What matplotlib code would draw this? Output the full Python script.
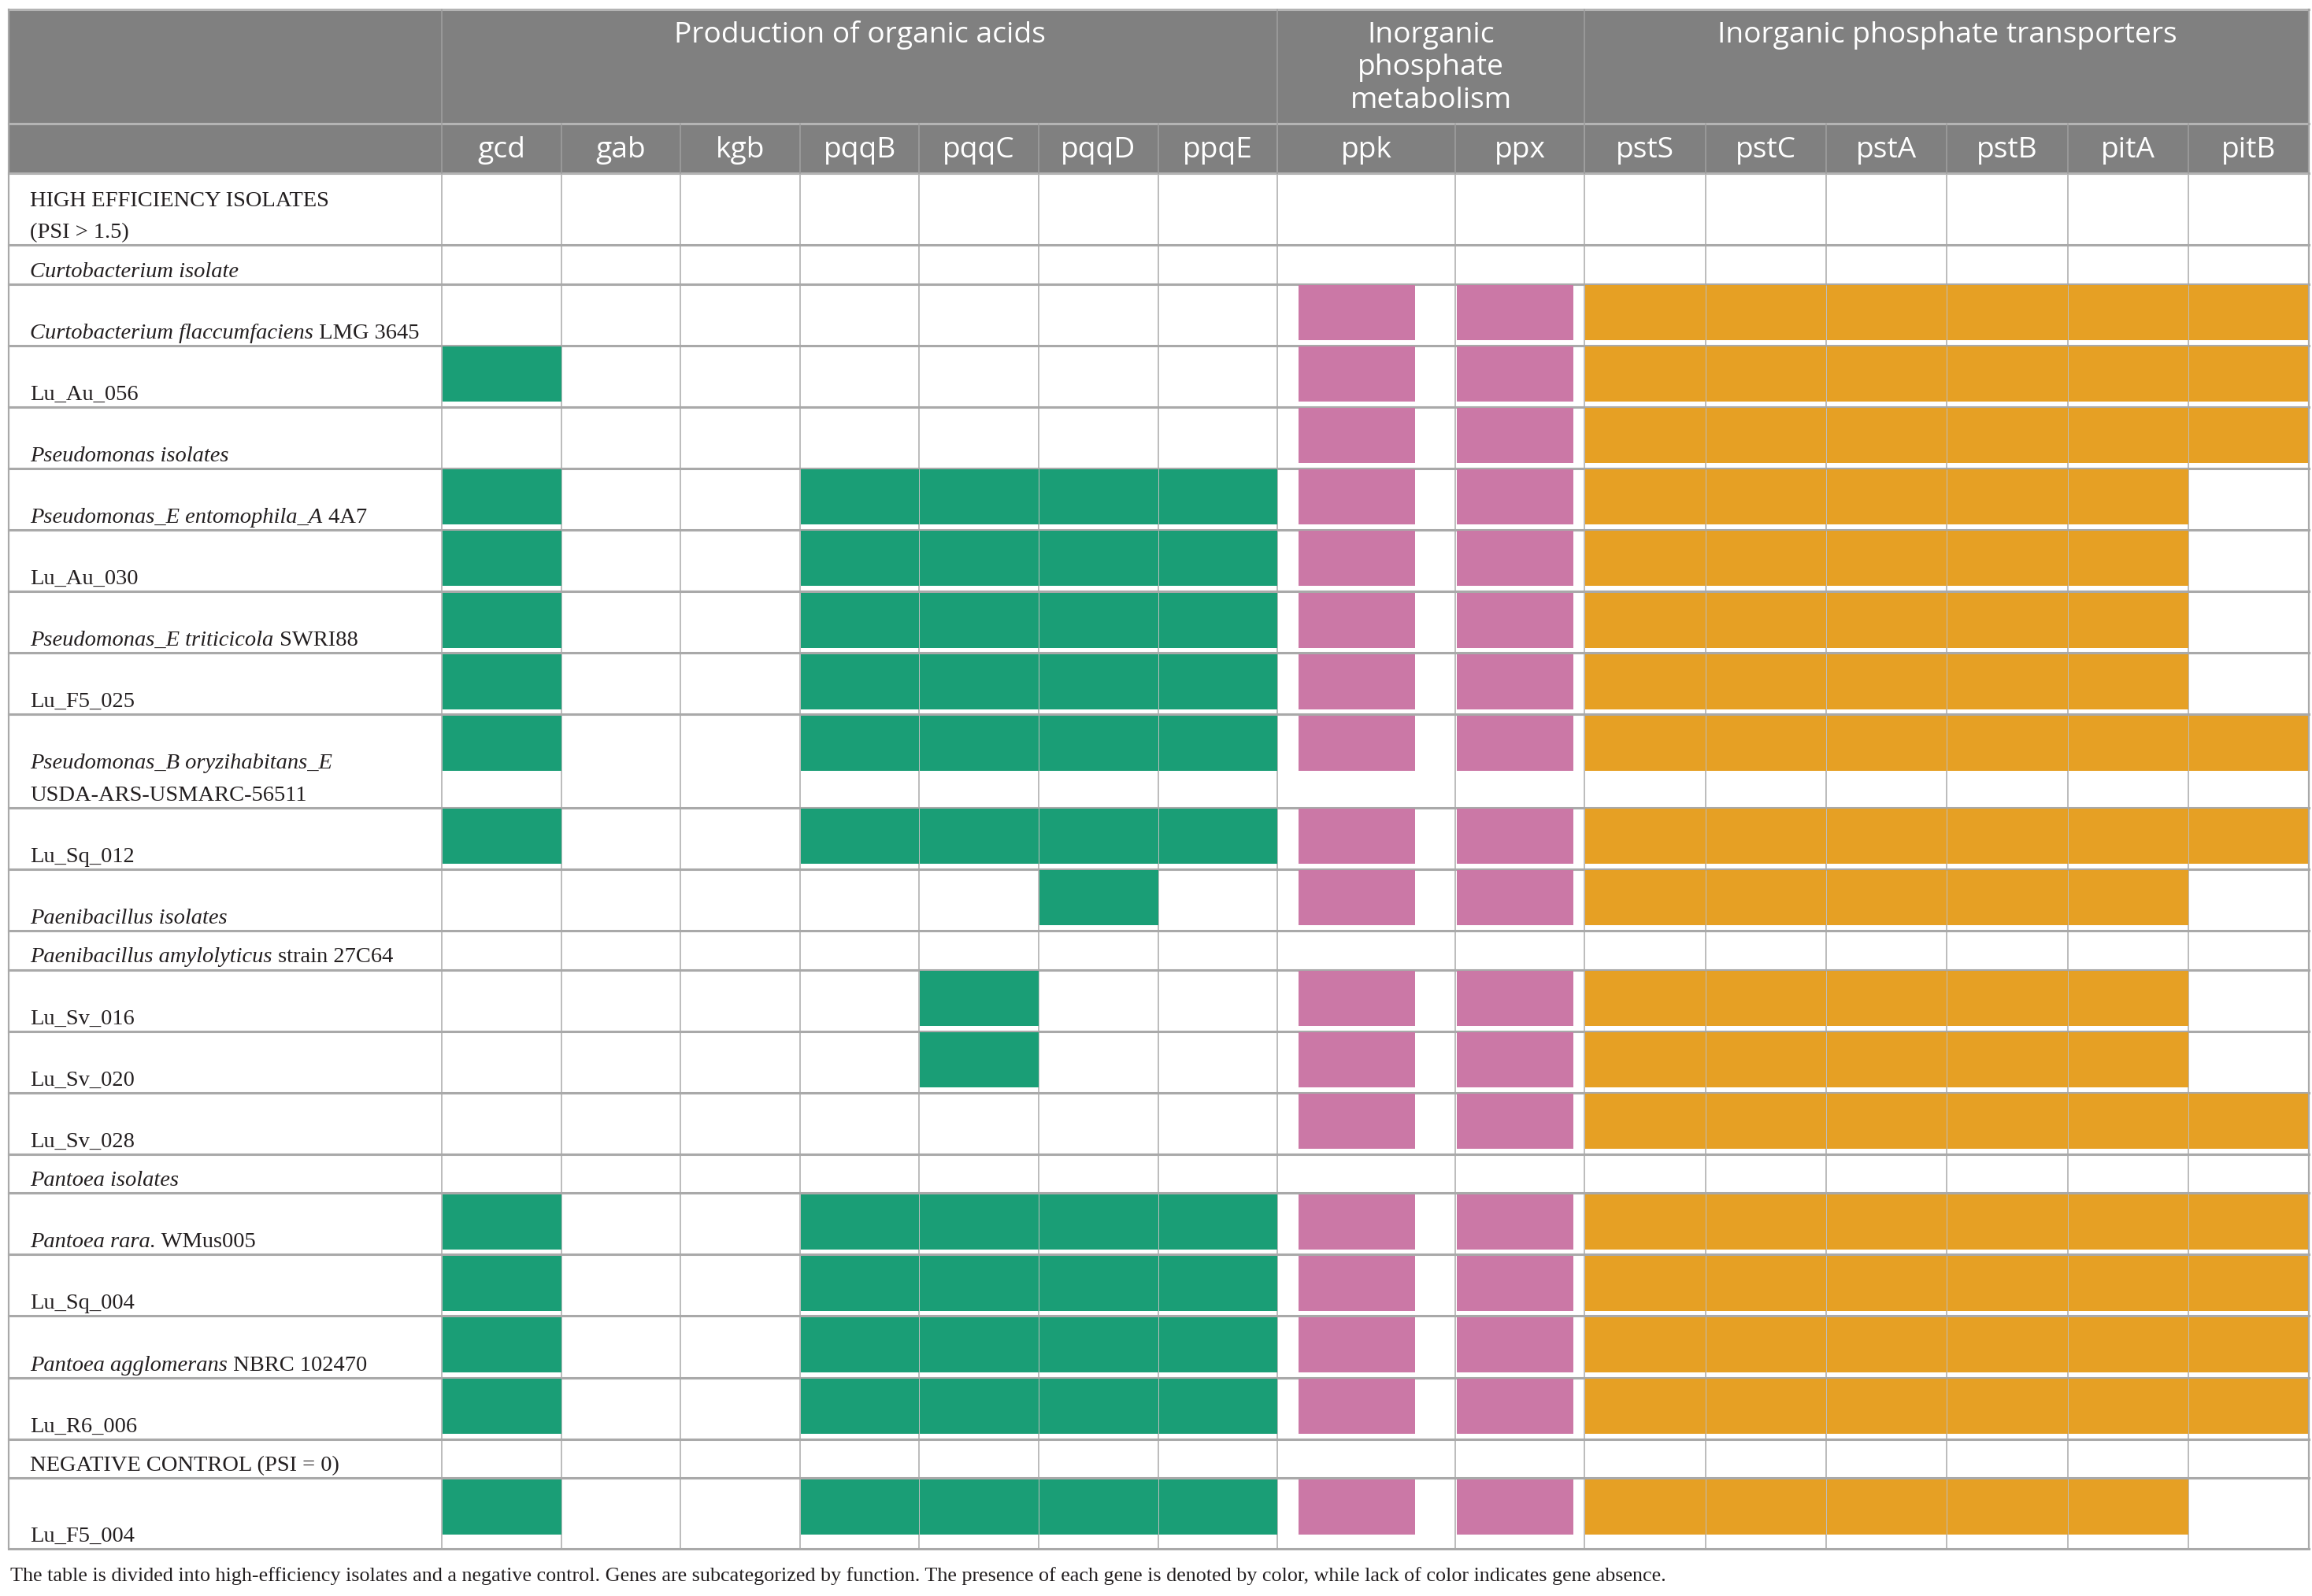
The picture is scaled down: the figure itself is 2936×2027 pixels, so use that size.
import matplotlib

matplotlib.use("Agg")
import matplotlib.pyplot as plt  # noqa: E402
from matplotlib.patches import Rectangle  # noqa: E402

# gene groups and their genes
GROUPS = ["Production of organic acids", "Inorganic\nphosphate\nmetabolism",
          "Inorganic phosphate transporters"]
GROUP_GENES = [
    ["gcd", "gab", "kgb", "pqqB", "pqqC", "pqqD", "ppqE"],
    ["ppk", "ppx"],
    ["pstS", "pstC", "pstA", "pstB", "pitA", "pitB"],
]
GROUP_COLORS = ["#1a9e76", "#cb78a6", "#e6a024"]

# row labels; *...* marks italic text, \n a second line
ROW_LABELS = [
    "HIGH EFFICIENCY ISOLATES\n(PSI > 1.5)",
    "*Curtobacterium isolate*",
    "*Curtobacterium flaccumfaciens* LMG 3645",
    "Lu_Au_056",
    "*Pseudomonas isolates*",
    "*Pseudomonas_E entomophila_A* 4A7",
    "Lu_Au_030",
    "*Pseudomonas_E triticicola* SWRI88",
    "Lu_F5_025",
    "*Pseudomonas_B oryzihabitans_E*\nUSDA-ARS-USMARC-56511",
    "Lu_Sq_012",
    "*Paenibacillus isolates*",
    "*Paenibacillus amylolyticus* strain 27C64",
    "Lu_Sv_016",
    "Lu_Sv_020",
    "Lu_Sv_028",
    "*Pantoea isolates*",
    "*Pantoea rara.* WMus005",
    "Lu_Sq_004",
    "*Pantoea agglomerans* NBRC 102470",
    "Lu_R6_006",
    "NEGATIVE CONTROL (PSI = 0)",
    "Lu_F5_004",
]

# gene presence per row, in gene order gcd ... pitB
PRESENCE = [
    "000000000000000",
    "000000000000000",
    "000000011111111",
    "100000011111111",
    "000000011111111",
    "100111111111110",
    "100111111111110",
    "100111111111110",
    "100111111111110",
    "100111111111111",
    "100111111111111",
    "000001011111110",
    "000000000000000",
    "000010011111110",
    "000010011111110",
    "000000011111111",
    "000000000000000",
    "100111111111111",
    "100111111111111",
    "100111111111111",
    "100111111111111",
    "000000000000000",
    "100111111111110",
]

CAPTION = ("The table is divided into high-efficiency isolates and a negative control. "
           "Genes are subcategorized by function. The presence of each gene is denoted "
           "by color, while lack of color indicates gene absence.")

# ---- layout (pixels) ----
W, H = 2936, 2027
LEFT, RIGHT = 10.5, 2932
TOP, HEAD1, HEAD2 = 12.3, 156.5, 220
FIRST_COL = 561
COL_W = [151.6] * 7 + [226.3, 164] + [153.3] * 6
BLOCK_OFF = [0] * 7 + [26, 1] + [0] * 6      # pink blocks are inset
BLOCK_W = [None] * 7 + [149, 149] + [None] * 6
BLOCK_H = 70
SHORT_H, TALL_H, EXTRA_LINE = 49.5, 78.1, 40.5
LINE_C = "#a9a9a9"
HEAD_BG = "#808080"

SANS = "Open Sans"
SERIF = "Liberation Serif"

genes = [g for grp in GROUP_GENES for g in grp]
colors = [GROUP_COLORS[i] for i, grp in enumerate(GROUP_GENES) for _ in grp]

col_x = [FIRST_COL]
for w in COL_W:
    col_x.append(col_x[-1] + w)

row_y = [HEAD2 + 1]
for i, (lab, pres) in enumerate(zip(ROW_LABELS, PRESENCE)):
    h = TALL_H if "1" in pres else SHORT_H
    h += EXTRA_LINE * lab.count("\n")
    if i == len(ROW_LABELS) - 1:
        h += 12
    row_y.append(row_y[-1] + h)
BOTTOM = row_y[-1]

fig = plt.figure(figsize=(W / 100, H / 100), dpi=100)
ax = fig.add_axes([0, 0, 1, 1])
ax.set_xlim(0, W)
ax.set_ylim(H, 0)
ax.axis("off")
renderer = fig.canvas.get_renderer()

# header background
ax.add_patch(Rectangle((LEFT, TOP), RIGHT - LEFT, HEAD2 - TOP, color=HEAD_BG, lw=0))

# grid lines of the body
for x in col_x[:-1]:
    ax.plot([x, x], [HEAD2, BOTTOM], color=LINE_C, lw=1.1, zorder=1)
for y in row_y[1:-1]:
    ax.plot([LEFT, RIGHT], [y, y], color=LINE_C, lw=2.2, zorder=1)

# gene presence blocks
for r, pres in enumerate(PRESENCE):
    for c, flag in enumerate(pres):
        if flag != "1":
            continue
        x0 = col_x[c] + BLOCK_OFF[c] + 1
        bw = (BLOCK_W[c] or COL_W[c]) - 1
        ax.add_patch(Rectangle((x0, row_y[r] + 1.5), bw, BLOCK_H,
                               color=colors[c], lw=0, zorder=2))

# header separators
ax.plot([LEFT, RIGHT], [HEAD1, HEAD1], color="#b4b4b4", lw=2.2, zorder=3)
ax.plot([LEFT, RIGHT], [HEAD2, HEAD2], color="#b4b4b4", lw=2.2, zorder=3)
ax.plot([LEFT, RIGHT], [TOP, TOP], color="#b4b4b4", lw=2.2, zorder=3)
ax.plot([LEFT, RIGHT], [BOTTOM, BOTTOM], color=LINE_C, lw=2.2, zorder=3)
for x in [LEFT, RIGHT]:
    ax.plot([x, x], [TOP, BOTTOM], color=LINE_C, lw=1.6, zorder=3)
ax.plot([FIRST_COL, FIRST_COL], [TOP, HEAD2], color="#a0a0a0", lw=1.1, zorder=3)
start = 0
for grp in GROUP_GENES:
    start += len(grp)
    ax.plot([col_x[start], col_x[start]], [TOP, HEAD2], color="#a0a0a0", lw=1.1, zorder=3)
for x in col_x[1:-1]:
    ax.plot([x, x], [HEAD1, HEAD2], color="#a0a0a0", lw=1.1, zorder=3)

# group titles
start = 0
for title, grp in zip(GROUPS, GROUP_GENES):
    cx = (col_x[start] + col_x[start + len(grp)]) / 2
    for k, line in enumerate(title.split("\n")):
        ax.text(cx, 54 + 41.5 * k, line, ha="center", va="baseline", color="white",
                family=SANS, fontsize=26.8, zorder=4)
    start += len(grp)

# gene names
for c, g in enumerate(genes):
    ax.text((col_x[c] + col_x[c + 1]) / 2, 200, g, ha="center", va="baseline",
            color="white", family=SANS, fontsize=26.8, zorder=4)

# row labels with mixed italic / roman runs
for r, lab in enumerate(ROW_LABELS):
    lines = lab.split("\n")
    for k, line in enumerate(lines):
        y = row_y[r + 1] - 9 - EXTRA_LINE * (len(lines) - 1 - k)
        x = 38.5
        for i, part in enumerate(line.split("*")):
            if not part:
                continue
            t = ax.text(x, y, part, ha="left", va="baseline", color="#231f20",
                        family=SERIF, fontsize=20.5,
                        fontstyle="italic" if i % 2 else "normal", zorder=4)
            x += t.get_window_extent(renderer).width

ax.text(13, 2008, CAPTION, ha="left", va="baseline", color="#231f20",
        family=SERIF, fontsize=18.8)

fig.savefig("out.png", dpi=100)
